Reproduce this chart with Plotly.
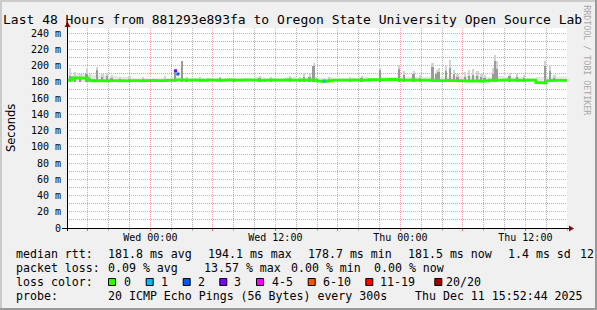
import plotly.graph_objects as go

# ---------------- data ----------------
title_text = "Last 48 Hours from 881293e893fa to Oregon State University Open Source Lab"
span_hours = 48
median_step_h = 0.5  # one median sample every 30 minutes, starting Tue 16:00

median_rtt_ms = [
    182.0, 184.6, 184.8, 184.4, 181.6,
    181.2, 181.4, 181.0, 181.3, 181.5, 181.2, 181.0, 181.4, 181.3, 181.1, 181.5,
    181.6, 181.3, 181.5, 181.8, 182.0, 182.2,
    182.3, 182.0, 182.4, 182.1, 181.8, 182.2, 182.0, 181.7, 182.1, 182.3, 182.0, 181.9, 182.2,
    182.4, 182.1, 181.8, 182.0, 182.3, 182.1, 181.9, 182.2, 182.0, 182.1, 182.3, 182.0, 182.2,
    180.7, 180.6, 181.0,
    182.0, 181.9, 182.1, 182.0, 182.2, 181.9, 182.1,
    182.6, 182.7, 182.5, 182.6, 182.8, 182.5,
    182.1, 182.0, 182.2, 181.9, 182.1, 182.0,
    181.5, 181.3, 181.4, 181.6, 181.3, 181.2,
    181.0, 180.9, 181.1, 180.8, 181.0,
    182.0, 182.1, 181.9, 182.2, 182.0, 182.1, 181.8, 182.0, 182.1,
    179.0, 178.7, 181.5,
    181.7, 181.6, 181.8, 181.5,
]

# hourly upper edge of the faint background smoke
band_top_ms = [
    188, 189, 188, 188, 187, 186,
    185, 185, 185, 185, 186, 185,
    185, 184.5, 185, 184.5, 185, 184.5, 185.5, 185, 184.5, 185.5, 185, 186,
    185, 185, 184.5, 185, 185.5, 185, 186, 186, 185.5, 186, 185.5, 186,
    186, 186.5, 187, 187, 186, 186.5, 186, 185.5, 185, 185.5, 186, 185.5,
]
smoke_floor_ms = 180.0

# individual smoke spikes: hour since start, outer top, inner (dense) top
spike_hours = [0.3, 0.8, 1.3, 1.9, 2.2, 2.9, 3.4, 3.85, 4.3, 5.1, 6.0, 7.3,
               9.4, 10.4, 11.05, 11.5, 12.8, 14.7, 16.1, 18.5, 19.6, 21.4, 22.4,
               22.75, 23.3, 23.7, 25.2, 27.2, 28.3, 30.05, 31.9, 32.35, 33.3, 33.9,
               35.1, 35.5, 35.7, 36.4, 36.8, 37.15, 37.5, 38.2, 38.6, 39.0, 39.4, 39.8,
               40.1, 40.9, 41.1, 41.3, 42.5, 43.2, 43.9, 45.9, 46.4, 46.8]
spike_top_ms = [197, 192, 189, 197, 189, 198, 190, 191, 188, 186, 187, 186,
                187, 194, 205.5, 186, 186, 186, 185, 187, 186, 187, 186,
                191, 190, 203, 186, 186, 187, 197, 201, 193, 193, 188,
                203, 195, 197, 199, 207, 195, 189, 192, 194, 196, 193, 190,
                188, 197, 213, 205, 191, 190, 188, 206, 200, 188]
spike_core_ms = [187, 186, 186, 190, 185, 195, 186, 187, 185, 184, 184, 184,
                 184, 193, 205, 184, 184, 185, 184, 185, 184, 185, 184,
                 186, 186, 199, 184, 184, 185, 194, 196, 188, 189, 185,
                 198, 190, 192, 193, 197, 189, 186, 186, 187, 188, 187, 186,
                 185, 190, 205, 196, 187, 186, 185, 200, 193, 185]

# median samples that had packet loss
loss_hours = [10.42, 10.64, 24.7]
loss_rtt_ms = [193.5, 189.5, 181.0]
loss_counts = [3, 2, 1]

x_tick_hours = [2, 8, 14, 20, 26, 32, 38, 44]
x_tick_labels = ["", "Wed 00:00", "", "Wed 12:00", "", "Thu 00:00", "", "Thu 12:00"]
y_tick_vals = [0, 20, 40, 60, 80, 100, 120, 140, 160, 180, 200, 220, 240]
y_tick_labels = ["0", "20 m", "40 m", "60 m", "80 m", "100 m", "120 m", "140 m",
                 "160 m", "180 m", "200 m", "220 m", "240 m"]
x_minor_hours = [0, 4, 6, 10, 12, 16, 18, 22, 24, 28, 30, 34, 36, 40, 42, 46, 48]
y_minor_vals = [10, 30, 50, 70, 90, 110, 130, 150, 170, 190, 210, 230]

rtt_stats = ["181.8 ms avg", "194.1 ms max", "178.7 ms min", "181.5 ms now", "1.4 ms sd", "12"]
loss_stats = ["0.09 % avg", "13.57 % max", "0.00 % min", "0.00 % now"]
loss_labels = ["0", "1", "2", "3", "4-5", "6-10", "11-19", "20/20"]
probe_text = "20 ICMP Echo Pings (56 Bytes) every 300s"
stamp_text = "Thu Dec 11 15:52:44 2025"

# ---------------- style ----------------
W, H = 597, 310
PL, PR, PT, PB = 67, 567, 28, 228
Y_TOP = 246.15
MONO = "DejaVu Sans Mono"
loss_colors = ["#26ff00", "#00b8ff", "#0059ff", "#7e00ff", "#ff00ff", "#ff5500", "#ff0000", "#a10000"]
loss_color_of = {0: 0, 1: 1, 2: 2, 3: 3, 4: 4, 5: 4}


def px(x):
    return (x - PL) / (PR - PL)


def py(y):
    return (PB - y) / (PB - PT)


fig = go.Figure()

# invisible trace binding the minor-grid axes
fig.add_trace(go.Scatter(x=[0], y=[0], xaxis="x2", yaxis="y2", mode="markers",
                         marker=dict(opacity=0), hoverinfo="skip"))
# background smoke band
fig.add_trace(go.Bar(
    x=[h + 0.5 for h in range(len(band_top_ms))],
    y=[t - smoke_floor_ms for t in band_top_ms],
    base=smoke_floor_ms, width=1.0,
    marker=dict(color="#e6e6e6", line=dict(width=0)), hoverinfo="skip"))
# outer smoke of spikes
fig.add_trace(go.Bar(
    x=spike_hours, y=[t - smoke_floor_ms for t in spike_top_ms], base=smoke_floor_ms,
    width=0.22, marker=dict(color="#d2d2d2", line=dict(width=0)), hoverinfo="skip"))
# dense smoke of spikes
fig.add_trace(go.Bar(
    x=spike_hours, y=[t - smoke_floor_ms for t in spike_core_ms], base=smoke_floor_ms,
    width=0.17, marker=dict(color="#9a9a9a", line=dict(width=0)), hoverinfo="skip"))
# median line (no loss)
fig.add_trace(go.Scatter(
    x=[i * median_step_h for i in range(len(median_rtt_ms))], y=median_rtt_ms,
    mode="lines", line=dict(color=loss_colors[0], width=2.8, shape="hv"), hoverinfo="skip"))
# median samples with loss
fig.add_trace(go.Scatter(
    x=loss_hours, y=loss_rtt_ms, mode="markers",
    marker=dict(symbol="square", size=3, color=[loss_colors[loss_color_of[c]] for c in loss_counts],
                line=dict(width=0)), hoverinfo="skip"))

major_grid = "rgba(255,0,0,0.38)"
minor_grid = "rgba(110,110,110,0.52)"
fig.update_layout(
    width=W, height=H, autosize=False,
    margin=dict(l=PL, r=W - PR, t=PT, b=H - PB, pad=0),
    paper_bgcolor="#f0f0f0", plot_bgcolor="#ffffff",
    showlegend=False, barmode="overlay", bargap=0,
    font=dict(family=MONO, size=10, color="#000000"),
    xaxis2=dict(range=[0, span_hours], overlaying="x", tickmode="array", tickvals=x_minor_hours,
                showgrid=True, gridcolor=minor_grid, griddash="1px,1px", gridwidth=1,
                ticks="outside", ticklen=2, tickcolor="rgba(150,150,150,0.7)",
                showticklabels=False, showline=False, zeroline=False, fixedrange=True, side="bottom"),
    yaxis2=dict(range=[0, Y_TOP], overlaying="y", tickmode="array", tickvals=y_minor_vals,
                showgrid=True, gridcolor=minor_grid, griddash="1px,1px", gridwidth=1,
                ticks="", showticklabels=False, showline=False, zeroline=False, fixedrange=True,
                side="left"),
    xaxis=dict(range=[0, span_hours], tickmode="array", tickvals=x_tick_hours, ticktext=x_tick_labels,
               ticks="outside", ticklen=2, tickcolor="rgba(255,0,0,0.6)", tickfont=dict(family=MONO, size=10),
               ticklabelstandoff=-2,
               showgrid=True, gridcolor=major_grid, griddash="1px,1px", gridwidth=1,
               showline=False, zeroline=False, fixedrange=True),
    yaxis=dict(range=[0, Y_TOP], tickmode="array", tickvals=y_tick_vals, ticktext=y_tick_labels,
               ticks="", tickfont=dict(family=MONO, size=10), ticklabelstandoff=5,
               showgrid=True, gridcolor=major_grid, griddash="1px,1px", gridwidth=1,
               showline=False, zeroline=False, fixedrange=True),
)

shapes = []
# frame borders
shapes.append(dict(type="rect", xref="paper", yref="paper", x0=px(0), x1=px(W), y0=py(0), y1=py(2),
                   fillcolor="#cbcbcb", line=dict(width=0), layer="above"))
shapes.append(dict(type="rect", xref="paper", yref="paper", x0=px(0), x1=px(2), y0=py(0), y1=py(H),
                   fillcolor="#cbcbcb", line=dict(width=0), layer="above"))
shapes.append(dict(type="rect", xref="paper", yref="paper", x0=px(W - 2), x1=px(W), y0=py(0), y1=py(H),
                   fillcolor="#999999", line=dict(width=0), layer="above"))
shapes.append(dict(type="rect", xref="paper", yref="paper", x0=px(0), x1=px(W), y0=py(H - 2), y1=py(H),
                   fillcolor="#999999", line=dict(width=0), layer="above"))
# axes
shapes.append(dict(type="line", xref="paper", yref="paper", x0=px(62), x1=px(570), y0=py(228.5), y1=py(228.5),
                   line=dict(color="#000000", width=1), layer="above"))
shapes.append(dict(type="line", xref="paper", yref="paper", x0=px(67.5), x1=px(67.5), y0=py(231), y1=py(25),
                   line=dict(color="#000000", width=1), layer="above"))
# arrows
shapes.append(dict(type="path", xref="paper", yref="paper",
                   path=f"M{px(569)},{py(225.5)} L{px(574)},{py(228.5)} L{px(569)},{py(231.5)} Z",
                   fillcolor="#8b0000", line=dict(width=0), layer="above"))
shapes.append(dict(type="path", xref="paper", yref="paper",
                   path=f"M{px(64.5)},{py(27)} L{px(67.5)},{py(22)} L{px(70.5)},{py(27)} Z",
                   fillcolor="#8b0000", line=dict(width=0), layer="above"))
# loss colour boxes
box_x = [108, 145.7, 182.7, 219.3, 256, 307.7, 365.3, 434.3]
for bx, col in zip(box_x, loss_colors):
    shapes.append(dict(type="rect", xref="paper", yref="paper", x0=px(bx + 0.5), x1=px(bx + 7.5),
                       y0=py(278.5), y1=py(285.5), fillcolor=col, line=dict(color="#000000", width=1),
                       layer="above"))
fig.update_layout(shapes=shapes)

ann = []


def text(t, x, y, size=11.6, family=MONO, color="#000000", xanchor="left", angle=0):
    ann.append(dict(text=t, x=px(x), y=py(y), xref="paper", yref="paper", showarrow=False,
                    xanchor=xanchor, yanchor="middle", textangle=angle, borderpad=0,
                    font=dict(family=family, size=size, color=color)))


text(title_text, 2, 19.5, size=13)
text("Seconds", 11, 128, size=11.5, family="DejaVu Sans", xanchor="center", angle=-90)
text("RRDTOOL / TOBI OETIKER", 586.7, 60, size=8.3, color="#a8a8a8", xanchor="center", angle=90)

row_y = [254.3, 268.3, 282.3, 296.3]
text("median rtt:", 15, row_y[0])
for s, x in zip(rtt_stats, [107, 207, 307, 407, 507, 579]):
    text(s, x, row_y[0])
text("packet loss:", 15, row_y[1])
for s, x in zip(loss_stats, [107, 203, 290, 373]):
    text(s, x, row_y[1])
text("loss color:", 15, row_y[2])
for s, x in zip(loss_labels, [123.3, 160, 196.7, 233.3, 270.7, 322, 378.7, 445.3]):
    text(s, x, row_y[2])
text("probe:", 15, row_y[3])
text(probe_text, 107, row_y[3])
text(stamp_text, 413.7, row_y[3])
fig.update_layout(annotations=ann)

fig.write_html("out.html")
